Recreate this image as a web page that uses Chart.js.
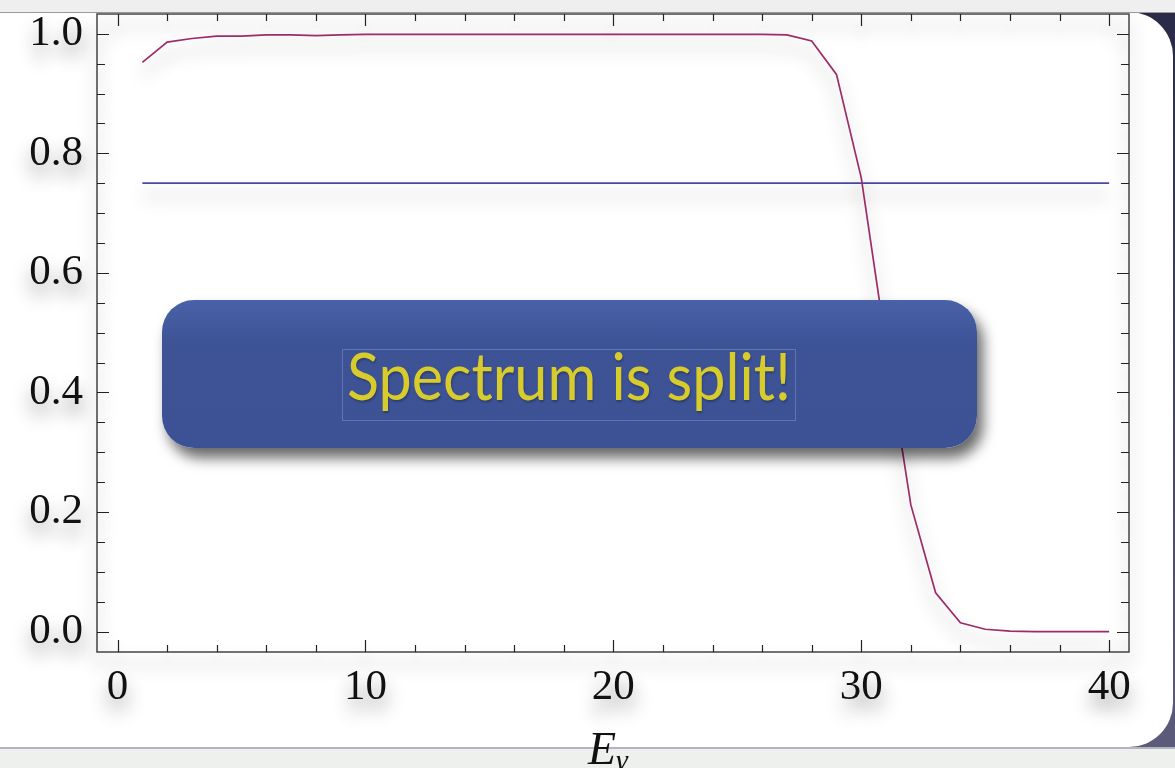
<!DOCTYPE html>
<html lang="en">
  <head>
    <meta charset="UTF-8" />
    <title>Spectrum is split!</title>
    <script src="https://cdn.jsdelivr.net/npm/chart.js"></script>
    <style>
      html, body { margin: 0; padding: 0; }
      body { width: 1175px; height: 768px; position: relative; overflow: hidden; background: #ededed; }
      .navy { position: absolute; left: 1110px; top: 12px; width: 65px; height: 736px;
        background: linear-gradient(#282a48, #5c5c7a); }
      .panel { position: absolute; left: -60px; top: 12px; width: 1233px; height: 735px;
        background: #fff; border-radius: 44px; }
      .topband { position: absolute; left: 0; top: 0; width: 1175px; height: 12px;
        background: #efefef; border-bottom: 1px solid #9a9a9a; }
      .bottomband { position: absolute; left: 0; top: 747px; width: 1175px; height: 21px;
        background: #eef0ee; border-top: 2px solid #b4b4c0; }
      canvas { position: absolute; left: 0; top: 0; }
      .callout { position: absolute; left: 162px; top: 300px; width: 815px; height: 148px;
        border-radius: 32px; background: linear-gradient(#4961a8, #3d5396 30%, #3c5295);
        box-shadow: 6px 10px 14px rgba(0,0,0,0.6); }
      .callout span { position: absolute; left: 180px; top: 49px; width: 454px; height: 72px;
        border: 1px solid rgba(160,180,230,0.35); box-sizing: border-box; }
      .callout span b { position: absolute; left: 4px; top: -15px; transform-origin: 0 0;
        color: #d8cc2c; font-family: Lato, sans-serif; font-size: 66px; line-height: 80px;
        font-weight: 400; white-space: nowrap; text-shadow: 1px 2px 2px rgba(0,0,0,0.25); }
      .xtitle { position: absolute; left: 588px; top: 722px; font-family: "Liberation Serif", serif;
        font-style: italic; font-size: 46px; color: #111; }
      .xtitle sub { font-size: 30px; vertical-align: -6px; }
    </style>
  </head>
  <body>
    <div class="navy"></div>
    <div class="panel"></div>
    <div class="topband"></div>
    <div class="bottomband"></div>
    <canvas id="splitChart" width="1175" height="768"></canvas>
    <div class="callout"><span><b id="calloutText">Spectrum is split!</b></span></div>
    <div class="xtitle">E<sub>γ</sub></div>

    <script>
      // curve data
      var energies = [1, 2, 3, 4, 5, 6, 7, 8, 9, 10, 11, 12, 13, 14, 15, 16, 17, 18, 19, 20,
        21, 22, 23, 24, 25, 26, 27, 28, 29, 30, 31, 32, 33, 34, 35, 36, 37, 38, 39, 40];
      var fraction = [0.952, 0.986, 0.992, 0.996, 0.996, 0.998, 0.998, 0.997, 0.998, 0.999,
        0.999, 0.999, 0.999, 0.999, 0.999, 0.999, 0.999, 0.999, 0.999, 0.999,
        0.999, 0.999, 0.999, 0.999, 0.999, 0.999, 0.998, 0.988, 0.932, 0.759,
        0.478, 0.212, 0.065, 0.015, 0.004, 0.001, 0.0, 0.0, 0.0, 0.0];
      var levelX = [1, 40];
      var levelY = [0.75, 0.75];
      var xMajor = [0, 10, 20, 30, 40];
      var yMajor = [0.0, 0.2, 0.4, 0.6, 0.8, 1.0];

      function isMajor(v, list) {
        return list.some(function (m) { return Math.abs(m - v) < 1e-6; });
      }

      var shadowPlugin = {
        id: "shadow",
        beforeDraw: function (chart) {
          var ctx = chart.ctx;
          ctx.save();
          ctx.shadowColor = "rgba(0,0,0,0.45)";
          ctx.shadowBlur = 18;
          ctx.shadowOffsetY = 12;
        },
        afterDraw: function (chart) {
          chart.ctx.restore();
        },
      };

      // frame with inward ticks on all four sides
      var framePlugin = {
        id: "frame",
        beforeDatasetsDraw: function (chart) {
          var ctx = chart.ctx;
          var a = chart.chartArea;
          var xs = chart.scales.x;
          var ys = chart.scales.y;
          ctx.save();
          ctx.strokeStyle = "#444";
          ctx.lineWidth = 1.5;
          ctx.strokeRect(a.left, a.top, a.right - a.left, a.bottom - a.top);
          ctx.lineWidth = 1.2;
          ctx.strokeStyle = "#222";
          ctx.beginPath();
          xs.ticks.forEach(function (t) {
            var px = Math.round(xs.getPixelForValue(t.value)) + 0.5;
            var len = isMajor(t.value, xMajor) ? 12 : 7;
            ctx.moveTo(px, a.bottom); ctx.lineTo(px, a.bottom - len);
            ctx.moveTo(px, a.top); ctx.lineTo(px, a.top + len);
          });
          ys.ticks.forEach(function (t) {
            var py = Math.round(ys.getPixelForValue(t.value)) + 0.5;
            var len = isMajor(t.value, yMajor) ? 12 : 8;
            ctx.moveTo(a.left, py); ctx.lineTo(a.left + len, py);
            ctx.moveTo(a.right, py); ctx.lineTo(a.right - len, py);
          });
          ctx.stroke();
          ctx.restore();
        },
      };

      var ctx = document.getElementById("splitChart").getContext("2d");
      var splitChart = new Chart(ctx, {
        type: "line",
        data: {
          datasets: [
            {
              label: "fraction",
              data: energies.map(function (e, i) { return { x: e, y: fraction[i] }; }),
              borderColor: "#9c2c68",
              borderWidth: 1.7,
              pointRadius: 0,
              tension: 0,
            },
            {
              label: "level",
              data: levelX.map(function (e, i) { return { x: e, y: levelY[i] }; }),
              borderColor: "#4848a6",
              borderWidth: 1.7,
              pointRadius: 0,
            },
          ],
        },
        options: {
          responsive: false,
          animation: false,
          events: [],
          layout: { padding: { top: 14, right: 46, left: 0, bottom: 0 } },
          plugins: { legend: { display: false }, tooltip: { enabled: false } },
          scales: {
            x: {
              type: "linear",
              min: -0.83,
              max: 40.8,
              grid: { display: false, drawTicks: false },
              border: { display: false },
              afterFit: function (s) {
                s.height = 116;
                s.paddingLeft = 0;
                s.paddingRight = 0;
              },
              ticks: {
                stepSize: 2,
                includeBounds: false,
                autoSkip: false,
                maxRotation: 0,
                padding: 10,
                color: "#111",
                font: { family: "'Liberation Serif', serif", size: 43 },
                callback: function (v) { return isMajor(v, xMajor) ? String(Math.round(v)) : ""; },
              },
            },
            y: {
              min: -0.034,
              max: 1.033,
              grid: { display: false, drawTicks: false },
              border: { display: false },
              afterFit: function (s) {
                s.width = 97;
                s.paddingTop = 0;
                s.paddingBottom = 0;
              },
              ticks: {
                stepSize: 0.05,
                includeBounds: false,
                autoSkip: false,
                padding: 14,
                color: "#111",
                font: { family: "'Liberation Serif', serif", size: 43 },
                callback: function (v) { return isMajor(v, yMajor) ? v.toFixed(1) : ""; },
              },
            },
          },
        },
        plugins: [shadowPlugin, framePlugin],
      });

      // squeeze the callout text to the width of the original lettering
      var txt = document.getElementById("calloutText");
      var w = txt.getBoundingClientRect().width;
      txt.style.transform = "scaleX(" + (444 / w).toFixed(3) + ")";
    </script>
  </body>
</html>
